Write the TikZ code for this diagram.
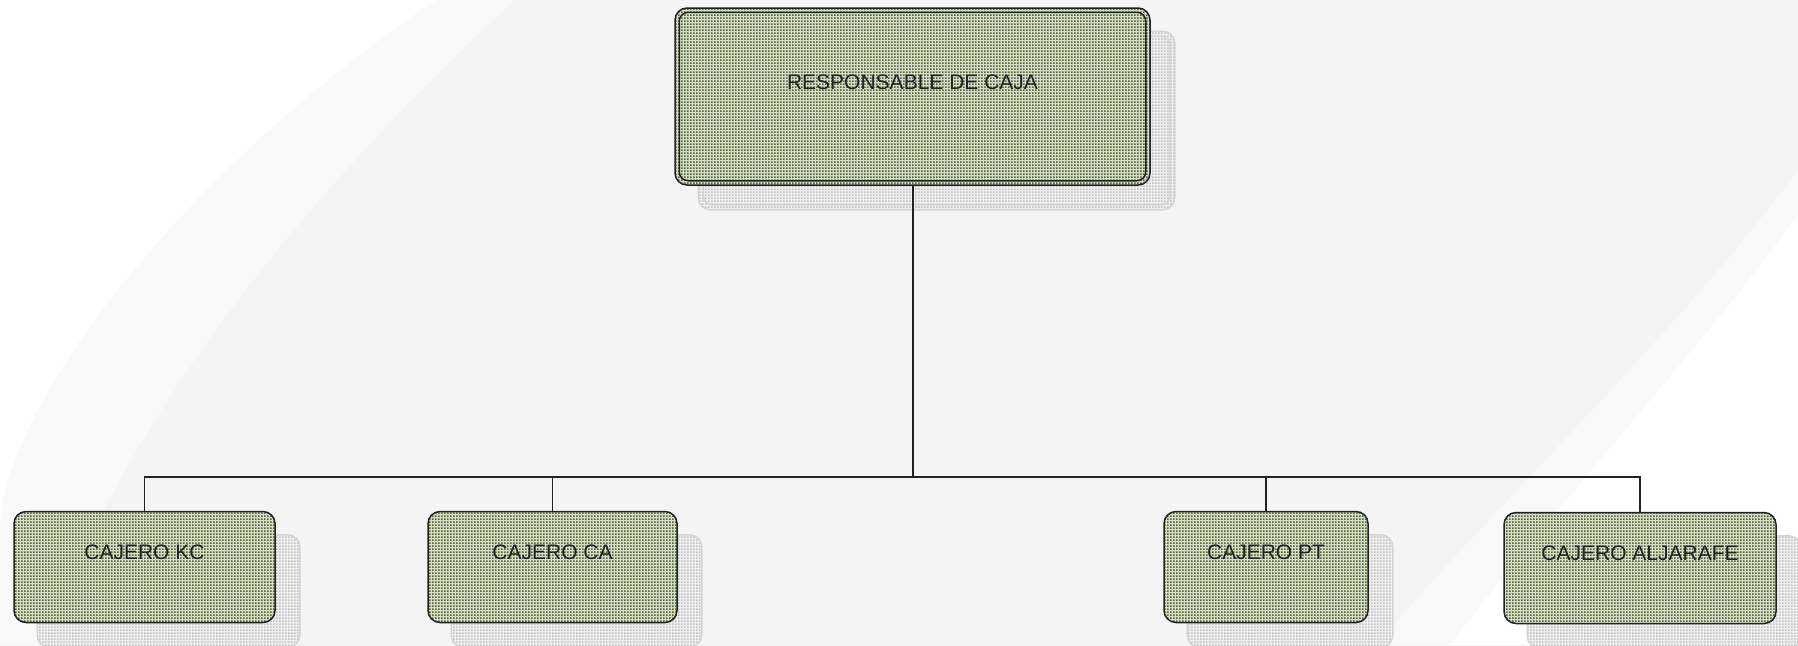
\documentclass[tikz,border=0pt]{standalone}
\usepackage{fontspec}
\setmainfont{Liberation Sans}
\usetikzlibrary{patterns,calc}
\pgfdeclarelayer{bglayer}
\pgfdeclarelayer{shadowlayer}
\pgfsetlayers{bglayer,shadowlayer,main}
\pgfdeclarepatternformonly{gdots}{\pgfqpoint{0pt}{0pt}}{\pgfqpoint{1.5pt}{1.5pt}}{\pgfqpoint{1.5pt}{1.5pt}}{\pgfpathrectangle{\pgfqpoint{0pt}{0pt}}{\pgfqpoint{1pt}{1pt}}\pgfusepath{fill}}
\definecolor{bordercol}{HTML}{222222}
\definecolor{boxbg}{HTML}{D8DAD2}
\definecolor{dotgreen}{HTML}{4E6C1E}
\definecolor{shbg}{HTML}{EEEEEE}
\definecolor{shdot}{HTML}{C4C4C4}
\definecolor{shline}{HTML}{D4D4D4}
\definecolor{bgmid}{HTML}{EEEEEE}
\definecolor{bgedge}{HTML}{F4F4F4}
\definecolor{band}{HTML}{F9F9F9}
\definecolor{txt}{HTML}{222222}
\tikzset{
  orgbox/.style={draw=bordercol, line width=0.75pt, rounded corners=6pt,
    preaction={fill=boxbg}, pattern=gdots, pattern color=dotgreen,
    text=txt, font=\fontsize{10.5pt}{12pt}\selectfont, inner sep=0pt,
    text height=7.5pt},
  childbox/.style={orgbox, minimum height=55.5pt, text depth=15pt},
  shadowbox/.style={draw=shline, line width=0.75pt, rounded corners=6pt,
    preaction={fill=shbg}, pattern=gdots, pattern color=shdot},
  innerline/.style={draw=bordercol, line width=0.75pt, rounded corners=4.5pt},
  shinner/.style={draw=shline, line width=0.75pt, rounded corners=4.5pt},
  conn/.style={draw=bordercol, line width=0.8pt},
  mainconn/.style={draw=bordercol, line width=1pt},
}
\begin{document}
\begin{tikzpicture}[x=0.5pt,y=-0.5pt]
\useasboundingbox (0,0) rectangle (1798,645);
% background
\begin{pgfonlayer}{bglayer}
\shade[top color=bgedge, middle color=bgmid, bottom color=bgedge] (0,0) rectangle (1798,645);
\fill[band] (0,0) -- (515,0) .. controls (330,170) and (130,400) .. (45,645) -- (0,645) -- cycle;
\fill[white] (0,0) -- (436,0) .. controls (240,130) and (20,360) .. (0,520) -- cycle;
\fill[band] (1798,645) -- (1798,170) .. controls (1680,330) and (1500,500) .. (1376,645) -- cycle;
\fill[white] (1798,645) -- (1798,215) .. controls (1700,350) and (1560,500) .. (1450,645) -- cycle;
\end{pgfonlayer}
% nodes
\node[orgbox, minimum width=237.5pt, minimum height=88.5pt, text depth=14.5pt] (top) at (912.5,96.5) {RESPONSABLE DE CAJA};
\draw[innerline] ([shift={(2.5pt,-2.5pt)}]top.north west) rectangle ([shift={(-2.5pt,2.5pt)}]top.south east);
\node[childbox, minimum width=130.5pt] (kc) at (144.5,567) {CAJERO KC};
\node[childbox, minimum width=124.5pt] (ca) at (552.5,567) {CAJERO CA};
\node[childbox, minimum width=102pt] (pt) at (1266,567) {CAJERO PT};
\node[childbox, minimum width=136pt] (alj) at (1640,568) {CAJERO ALJARAFE};
% shadows
\begin{pgfonlayer}{shadowlayer}
\path[shadowbox] ([shift={(12pt,-12pt)}]top.north west) rectangle ([shift={(12pt,-12pt)}]top.south east);
\draw[shinner] ([shift={(14.5pt,-14.5pt)}]top.north west) rectangle ([shift={(9.5pt,-9.5pt)}]top.south east);
\foreach \n in {kc,ca,pt,alj}{
  \path[shadowbox] ([shift={(12pt,-12pt)}]\n.north west) rectangle ([shift={(12pt,-12pt)}]\n.south east);
}
\end{pgfonlayer}
% connectors
\coordinate (bar) at (912.5,477);
\draw[mainconn] (top.south) -- (bar);
\draw[conn] (bar) -| (kc.north);
\draw[conn] (bar) -| (ca.north);
\draw[conn] (bar) -| (pt.north);
\draw[conn] (bar) -| (alj.north);
\end{tikzpicture}
\end{document}
